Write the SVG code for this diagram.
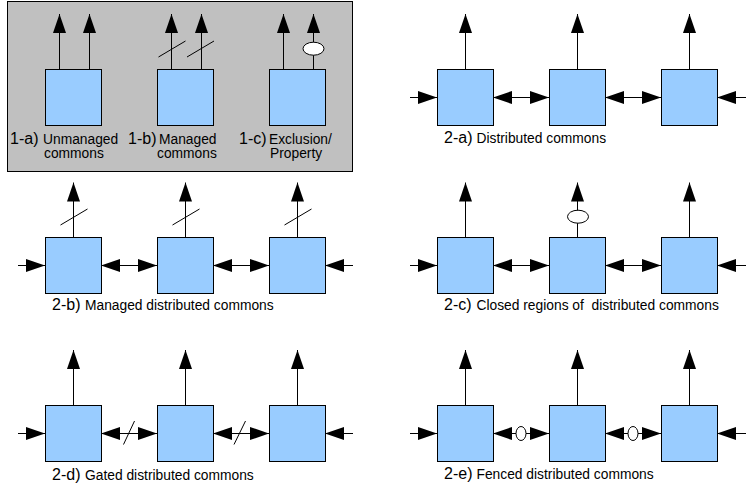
<svg xmlns="http://www.w3.org/2000/svg" width="746" height="491" viewBox="0 0 746 491">
<defs>
<style>
.bg{fill:#c0c0c0;stroke:#000;stroke-width:1}
.box{fill:#99ccff;stroke:#000;stroke-width:1}
.ln{stroke:#000;stroke-width:1;fill:none}
.ar{stroke:#000;stroke-width:1;fill:none;marker-end:url(#ah)}
.ar2{stroke:#000;stroke-width:1;fill:none;marker-start:url(#ah);marker-end:url(#ah)}
.ars{stroke:#000;stroke-width:1;fill:none;marker-start:url(#ah)}
.el{fill:#fff;stroke:#000;stroke-width:1}
.num{font-family:"Liberation Sans",Arial,sans-serif;font-size:16px;fill:#000}
.txt{font-family:"Liberation Sans",Arial,sans-serif;font-size:13.8px;fill:#000;white-space:pre}
</style>
<marker id="ah" markerWidth="19" markerHeight="13" refX="19" refY="6.5" orient="auto-start-reverse" markerUnits="userSpaceOnUse">
<path d="M0,0 L19,6.5 L0,13 z" fill="#000"/>
</marker>
</defs>
<rect id="panel1-bg" class="bg" x="7.5" y="1.5" width="345" height="170"/>

<g id="connectors">
<!-- 1-a -->
<line class="ar" x1="59.5" y1="69" x2="59.5" y2="14"/>
<line class="ar" x1="89.5" y1="69" x2="89.5" y2="14"/>
<!-- 1-b -->
<line class="ar" x1="171.5" y1="69" x2="171.5" y2="14"/>
<line class="ar" x1="201.5" y1="69" x2="201.5" y2="14"/>
<line class="ln" x1="158.5" y1="57" x2="185.5" y2="41"/>
<line class="ln" x1="187" y1="57" x2="214" y2="41"/>
<!-- 1-c -->
<line class="ar" x1="283.5" y1="69" x2="283.5" y2="14"/>
<line class="ar" x1="313.5" y1="69" x2="313.5" y2="14"/>
<ellipse class="el" cx="313.5" cy="48.7" rx="10.5" ry="6.5"/>

<!-- 2-a -->
<line class="ar" x1="465.5" y1="69" x2="465.5" y2="14"/>
<line class="ar" x1="577.5" y1="69" x2="577.5" y2="14"/>
<line class="ar" x1="689.5" y1="69" x2="689.5" y2="14"/>
<line class="ar" x1="410" y1="97.5" x2="437" y2="97.5"/>
<line class="ar2" x1="493" y1="97.5" x2="549" y2="97.5"/>
<line class="ar2" x1="605" y1="97.5" x2="661" y2="97.5"/>
<line class="ar" x1="746" y1="97.5" x2="717" y2="97.5"/>

<!-- 2-b -->
<line class="ar" x1="73.5" y1="237" x2="73.5" y2="182.5"/>
<line class="ar" x1="185.5" y1="237" x2="185.5" y2="182.5"/>
<line class="ar" x1="297.5" y1="237" x2="297.5" y2="182.5"/>
<line class="ln" x1="60.5" y1="225" x2="87.5" y2="209"/>
<line class="ln" x1="172.5" y1="225" x2="199.5" y2="209"/>
<line class="ln" x1="284.5" y1="225" x2="311.5" y2="209"/>
<line class="ar" x1="18" y1="265.5" x2="45" y2="265.5"/>
<line class="ar2" x1="101" y1="265.5" x2="157" y2="265.5"/>
<line class="ar2" x1="213" y1="265.5" x2="269" y2="265.5"/>
<line class="ar" x1="353" y1="265.5" x2="325" y2="265.5"/>

<!-- 2-c -->
<line class="ar" x1="465.5" y1="237" x2="465.5" y2="182.5"/>
<line class="ar" x1="577.5" y1="237" x2="577.5" y2="182.5"/>
<line class="ar" x1="689.5" y1="237" x2="689.5" y2="182.5"/>
<ellipse class="el" cx="578" cy="216.7" rx="10.5" ry="6.5"/>
<line class="ar" x1="410" y1="265.5" x2="437" y2="265.5"/>
<line class="ar2" x1="493" y1="265.5" x2="549" y2="265.5"/>
<line class="ar2" x1="605" y1="265.5" x2="661" y2="265.5"/>
<line class="ar" x1="746" y1="265.5" x2="717" y2="265.5"/>

<!-- 2-d -->
<line class="ar" x1="73.5" y1="405" x2="73.5" y2="350"/>
<line class="ar" x1="185.5" y1="405" x2="185.5" y2="350"/>
<line class="ar" x1="297.5" y1="405" x2="297.5" y2="350"/>
<line class="ar" x1="18" y1="433.5" x2="45" y2="433.5"/>
<line class="ar2" x1="101" y1="433.5" x2="157" y2="433.5"/>
<line class="ar2" x1="213" y1="433.5" x2="269" y2="433.5"/>
<line class="ar" x1="353" y1="433.5" x2="325" y2="433.5"/>
<line class="ln" x1="123.5" y1="444.5" x2="134.5" y2="421"/>
<line class="ln" x1="234" y1="444.5" x2="245.5" y2="421"/>

<!-- 2-e -->
<line class="ar" x1="465.5" y1="405" x2="465.5" y2="350"/>
<line class="ar" x1="577.5" y1="405" x2="577.5" y2="350"/>
<line class="ar" x1="689.5" y1="405" x2="689.5" y2="350"/>
<line class="ar" x1="410" y1="433.5" x2="437" y2="433.5"/>
<line class="ars" x1="493" y1="433.5" x2="516" y2="433.5"/>
<line class="ar" x1="526" y1="433.5" x2="549" y2="433.5"/>
<ellipse class="el" cx="521" cy="433.5" rx="5" ry="7"/>
<line class="ars" x1="605" y1="433.5" x2="628" y2="433.5"/>
<line class="ar" x1="638" y1="433.5" x2="661" y2="433.5"/>
<ellipse class="el" cx="633" cy="433.5" rx="5" ry="7"/>
<line class="ar" x1="746" y1="433.5" x2="717" y2="433.5"/>
</g>

<g id="node-1a"><rect class="box" x="45.5" y="69.5" width="56" height="56"/></g>
<g id="node-1b"><rect class="box" x="157.5" y="69.5" width="56" height="56"/></g>
<g id="node-1c"><rect class="box" x="269.5" y="69.5" width="56" height="56"/></g>

<g id="node-2a-1"><rect class="box" x="437.5" y="69.5" width="56" height="56"/></g>
<g id="node-2a-2"><rect class="box" x="549.5" y="69.5" width="56" height="56"/></g>
<g id="node-2a-3"><rect class="box" x="661.5" y="69.5" width="56" height="56"/></g>

<g id="node-2b-1"><rect class="box" x="45.5" y="237.5" width="56" height="56"/></g>
<g id="node-2b-2"><rect class="box" x="157.5" y="237.5" width="56" height="56"/></g>
<g id="node-2b-3"><rect class="box" x="269.5" y="237.5" width="56" height="56"/></g>

<g id="node-2c-1"><rect class="box" x="437.5" y="237.5" width="56" height="56"/></g>
<g id="node-2c-2"><rect class="box" x="549.5" y="237.5" width="56" height="56"/></g>
<g id="node-2c-3"><rect class="box" x="661.5" y="237.5" width="56" height="56"/></g>

<g id="node-2d-1"><rect class="box" x="45.5" y="405.5" width="56" height="56"/></g>
<g id="node-2d-2"><rect class="box" x="157.5" y="405.5" width="56" height="56"/></g>
<g id="node-2d-3"><rect class="box" x="269.5" y="405.5" width="56" height="56"/></g>

<g id="node-2e-1"><rect class="box" x="437.5" y="405.5" width="56" height="56"/></g>
<g id="node-2e-2"><rect class="box" x="549.5" y="405.5" width="56" height="56"/></g>
<g id="node-2e-3"><rect class="box" x="661.5" y="405.5" width="56" height="56"/></g>

<g id="label-1a">
<text class="num" x="10" y="144">1-a)</text>
<text class="txt" x="43" y="144">Unmanaged</text>
<text class="txt" x="44" y="158">commons</text>
</g>
<g id="label-1b">
<text class="num" x="128" y="144">1-b)</text>
<text class="txt" x="159" y="144">Managed</text>
<text class="txt" x="157" y="158">commons</text>
</g>
<g id="label-1c">
<text class="num" x="239" y="144">1-c)</text>
<text class="txt" x="269" y="144">Exclusion/</text>
<text class="txt" x="270" y="158">Property</text>
</g>
<g id="label-2a">
<text class="num" x="444" y="143">2-a)</text>
<text class="txt" x="476.5" y="143">Distributed commons</text>
</g>
<g id="label-2b">
<text class="num" x="52" y="310">2-b)</text>
<text class="txt" x="85" y="310">Managed distributed commons</text>
</g>
<g id="label-2c">
<text class="num" x="444" y="310">2-c)</text>
<text class="txt" x="476.5" y="310">Closed regions of  distributed commons</text>
</g>
<g id="label-2d">
<text class="num" x="52" y="480">2-d)</text>
<text class="txt" x="85" y="480">Gated distributed commons</text>
</g>
<g id="label-2e">
<text class="num" x="444" y="479">2-e)</text>
<text class="txt" x="476.5" y="479">Fenced distributed commons</text>
</g>
</svg>
